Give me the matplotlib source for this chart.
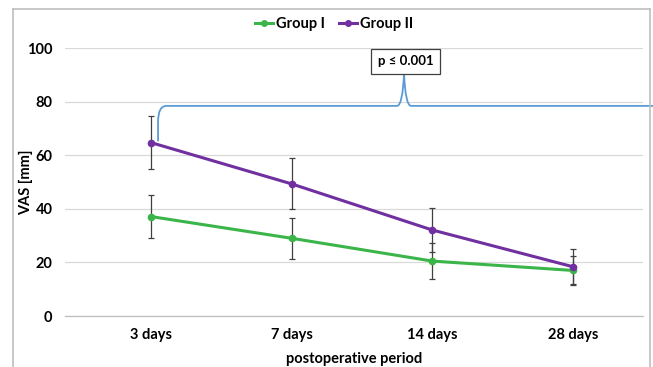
import matplotlib
matplotlib.use("Agg")
import matplotlib.pyplot as plt
import numpy as np
from matplotlib.lines import Line2D
from matplotlib.path import Path
from matplotlib.patches import PathPatch

categories = ["3 days", "7 days", "14 days", "28 days"]
group1 = [37.1, 29.0, 20.5, 17.0]
group1_err = [8.1, 7.7, 6.7, 5.4]
group2 = [64.7, 49.3, 32.1, 18.4]
group2_err = [10.0, 9.5, 8.2, 6.5]
yticks = [0, 20, 40, 60, 80, 100]

green = "#3BB54A"
purple = "#7030A0"
blue = "#5B9BD5"

plt.rcParams['font.family'] = ['Lato', 'DejaVu Sans']
FS = 10.5

fig = plt.figure(figsize=(6.53, 3.67), dpi=100)
W, H = 653, 367
ax = fig.add_axes([65 / W, (H - 316) / H, (643 - 65) / W, (316 - 48) / H])

x = np.arange(len(categories))
ax.errorbar(x, group1, yerr=group1_err, fmt='none', ecolor='#404040', elinewidth=0.9, capsize=2.5, capthick=0.9, zorder=2)
ax.errorbar(x, group2, yerr=group2_err, fmt='none', ecolor='#404040', elinewidth=0.9, capsize=2.5, capthick=0.9, zorder=2)
ax.plot(x, group1, color=green, lw=2.2, marker='o', ms=4.5, label="Group I", zorder=3)
ax.plot(x, group2, color=purple, lw=2.2, marker='o', ms=4.5, label="Group II", zorder=3)

ax.set_xlim(-0.612, 3.50)
ax.set_ylim(0, 100)
ax.set_yticks(yticks)
ax.set_xticks(x)
ax.set_xticklabels(categories, fontsize=FS, fontweight='bold')
ax.set_yticklabels([str(v) for v in yticks], fontsize=FS, fontweight='bold')
ax.tick_params(axis='y', length=0, pad=9)
ax.tick_params(axis='x', length=0, pad=9)
ax.grid(axis='y', color='#D9D9D9', lw=0.9)
ax.set_axisbelow(True)
for s in ['top', 'right', 'left']:
    ax.spines[s].set_visible(False)
ax.spines['bottom'].set_color('#BFBFBF')
ax.spines['bottom'].set_linewidth(0.9)

ax.set_xlabel("postoperative period", fontsize=FS, fontweight='bold', labelpad=7)
ax.set_ylabel("VAS [mm]", fontsize=FS, fontweight='bold')
ax.yaxis.set_label_coords(-0.055, 0.5)

# significance bracket
x0 = x[0] + 0.05
yb = 78.4
xr = 3.6
xp = 1.80
pts = [(x0, group2[0] + 0.5), (x0, yb - 6), (x0 + 0.0, yb), (x0 + 0.06, yb),
       (xp - 0.05, yb), (xp - 0.01, yb), (xp, 90.5),
       (xp + 0.01, yb), (xp + 0.05, yb), (xr, yb)]
codes = [Path.MOVETO, Path.LINETO, Path.CURVE3, Path.CURVE3,
         Path.LINETO, Path.CURVE3, Path.CURVE3,
         Path.CURVE3, Path.CURVE3, Path.LINETO]
ax.add_patch(PathPatch(Path(pts, codes), fill=False, edgecolor=blue, lw=1.3, clip_on=False, zorder=4))

ax.text(xp + 0.01, 95.0, "p ≤ 0.001", ha='center', va='center', fontsize=9.5, fontweight='bold',
        bbox=dict(boxstyle='square,pad=0.5', fc='white', ec='#404040', lw=0.9), zorder=5)

handles = [Line2D([0], [0], color=green, lw=2.2, marker='o', ms=4),
           Line2D([0], [0], color=purple, lw=2.2, marker='o', ms=4)]
fig.legend(handles, ["Group I", "Group II"], loc='center', bbox_to_anchor=(334 / W, 1 - 24 / H),
           ncol=2, frameon=False, prop={'weight': 'bold', 'size': FS},
           handlelength=1.2, handletextpad=0.2, columnspacing=1.0)

# outer frame
fig.add_artist(Line2D([13 / W, 13 / W], [0, 1 - 9 / H], color='#BFBFBF', lw=1.2))
fig.add_artist(Line2D([13 / W, 650 / W], [1 - 9 / H, 1 - 9 / H], color='#BFBFBF', lw=1.2))
fig.add_artist(Line2D([650 / W, 650 / W], [0, 1 - 9 / H], color='#BFBFBF', lw=1.2))

fig.savefig("out.png", dpi=100)
